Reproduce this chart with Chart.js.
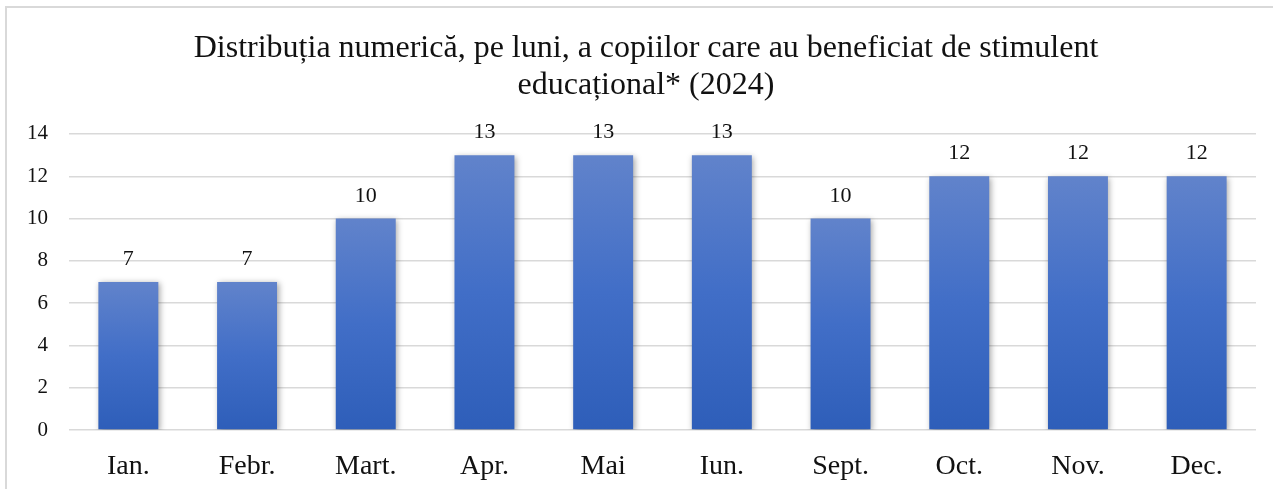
<!DOCTYPE html>
<html>
<head>
<meta charset="utf-8">
<script src="https://cdn.jsdelivr.net/npm/chart.js@4/dist/chart.umd.min.js"></script>
<style>
  html, body { margin: 0; padding: 0; background: #fff; overflow: hidden; width: 1273px; height: 489px; }
  .chart-frame { position: absolute; left: 5px; top: 6px; width: 1282px; height: 490px; border: 2px solid #d9d9d9; }
  .chart-frame canvas { display: block; }
</style>
</head>
<body>
<div class="chart-frame"><canvas id="stimulentChart" width="1282" height="490"></canvas></div>
<script>
// --- DATA ---
const months = ['Ian.', 'Febr.', 'Mart.', 'Apr.', 'Mai', 'Iun.', 'Sept.', 'Oct.', 'Nov.', 'Dec.'];
const children = [7, 7, 10, 13, 13, 13, 10, 12, 12, 12];
const titleLines = [
    'Distribuția numerică, pe luni, a copiilor care au beneficiat de stimulent',
    'educațional* (2024)'
];
const yMin = 0;
const yMax = 14;
const yStep = 2;

const SERIF = "'Times New Roman', 'Liberation Serif', serif";
const TEXT_COLOR = '#111';

// per-bar vertical gradient, lighter on top like the Excel fill
function barGradient(ctx) {
    const chart = ctx.chart;
    if (!chart.chartArea || ctx.raw == null) return '#4472c4';
    const y = chart.scales.y;
    const top = y.getPixelForValue(ctx.raw);
    const base = y.getPixelForValue(0);
    const g = chart.ctx.createLinearGradient(0, top, 0, base);
    g.addColorStop(0, 'rgb(97, 131, 203)');
    g.addColorStop(0.5, 'rgb(65, 110, 199)');
    g.addColorStop(1, 'rgb(46, 94, 185)');
    return g;
}

// soft shadow under bars + value labels on top
const barDecor = {
    id: 'barDecor',
    beforeDatasetsDraw(chart) {
        const c = chart.ctx;
        c.save();
        c.shadowColor = 'rgba(0, 0, 0, 0.35)';
        c.shadowBlur = 6;
        c.shadowOffsetX = 1.5;
        c.shadowOffsetY = 1.5;
    },
    afterDatasetsDraw(chart) {
        const c = chart.ctx;
        c.restore();
        c.save();
        c.font = '22px ' + SERIF;
        c.fillStyle = TEXT_COLOR;
        c.textAlign = 'center';
        c.textBaseline = 'alphabetic';
        chart.getDatasetMeta(0).data.forEach((bar, i) => {
            c.fillText(String(children[i]), bar.x, bar.y - 17);
        });
        c.restore();
    }
};

new Chart(document.getElementById('stimulentChart'), {
    type: 'bar',
    data: {
        labels: months,
        datasets: [{
            data: children,
            backgroundColor: barGradient,
            borderWidth: 0,
            categoryPercentage: 1,
            barPercentage: 0.505
        }]
    },
    options: {
        responsive: false,
        animation: false,
        events: [],
        layout: { padding: { left: 0, right: 4, top: 0, bottom: 0 } },
        plugins: {
            legend: { display: false },
            tooltip: { enabled: false },
            title: {
                display: true,
                text: titleLines,
                color: TEXT_COLOR,
                font: { family: SERIF, size: 32, weight: 'normal', lineHeight: 1.156 },
                padding: { top: 22.5, bottom: 29.5 }
            }
        },
        scales: {
            x: {
                grid: { display: false, drawTicks: false },
                border: { display: false },
                ticks: { color: TEXT_COLOR, font: { family: SERIF, size: 28 }, padding: 20, maxRotation: 0 },
                afterFit(scale) { scale.height = 68; }
            },
            y: {
                min: yMin,
                max: yMax,
                grid: { color: '#d9d9d9', lineWidth: 1.5, drawTicks: false },
                border: { display: false },
                ticks: { stepSize: yStep, color: TEXT_COLOR, font: { family: SERIF, size: 21 }, padding: 21 },
                afterFit(scale) { scale.width = 62; }
            },
            // empty right-hand spacer so the title sits centred on the whole frame
            spacer: {
                type: 'linear',
                position: 'right',
                grid: { display: false, drawTicks: false },
                border: { display: false },
                ticks: { display: false },
                afterFit(scale) { scale.width = 29; }
            }
        }
    },
    plugins: [barDecor]
});
</script>
</body>
</html>
